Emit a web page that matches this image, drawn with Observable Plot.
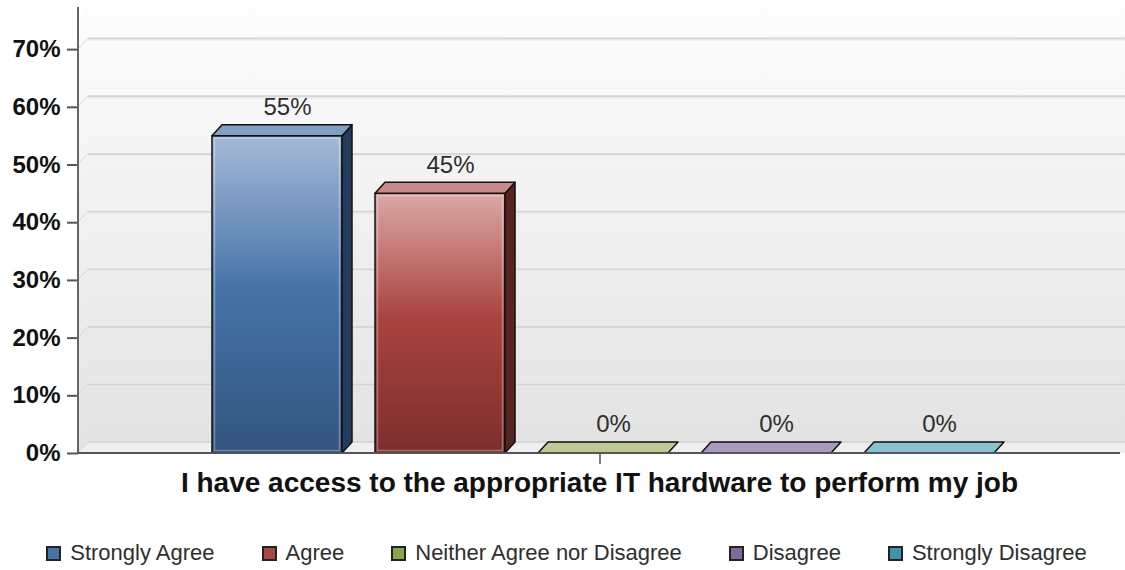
<!DOCTYPE html>
<html>
<head>
<meta charset="utf-8">
<script src="https://cdn.jsdelivr.net/npm/d3@7"></script>
<script src="https://cdn.jsdelivr.net/npm/@observablehq/plot@0.6"></script>
<style>
  html, body { margin: 0; padding: 0; background: #fff; overflow: hidden; }
  #wrap { position: relative; width: 1125px; height: 570px; font-family: "Liberation Sans", Arial, sans-serif; }
  #chart { position: absolute; left: 0; top: 0; }
  #legend { position: absolute; left: 4px; top: 542px; width: 1125px; display: flex; justify-content: center; gap: 47px;
            font-size: 22px; line-height: 22px; color: #2e2e2e; }
  .item { display: flex; align-items: center; white-space: nowrap; }
  .sw { width: 11px; height: 11px; border: 2px solid #222; margin-right: 9px; }
</style>
</head>
<body>
<div id="wrap">
  <div id="chart"></div>
  <div id="legend"></div>
</div>
<script>
// ---- data ----
const question = "I have access to the appropriate IT hardware to perform my job";
const series = ["Strongly Agree", "Agree", "Neither Agree nor Disagree", "Disagree", "Strongly Disagree"];
const values = [55, 45, 0, 0, 0];
const yTicks = [0, 10, 20, 30, 40, 50, 60, 70];

// ---- styles ----
const palette   = ["#4572A7", "#AA4643", "#89A54E", "#80699B", "#3D96AE"];
const gradTop   = ["#a4bad7", "#dba8a6", "#c9d6a8", "#b6a9c8", "#9fd0dd"];
const gradMid   = ["#4773a9", "#a9433f", "#89A54E", "#80699B", "#3D96AE"];
const gradBot   = ["#33547e", "#7c2e2c", "#5f7a34", "#5a4873", "#2a6e80"];
const topFace   = ["#809fc5", "#c98b89", "#bccb95", "#a89bbf", "#88c1d0"];
const sideFace  = ["#243b5c", "#562523", "#4c6128", "#463a58", "#20566a"];
const DX = 10, DY = 11;

const rows = series.map((s, i) => ({series: s, value: values[i], i}));

function scene(index, scales, vals, dims) {
  const {width, marginTop, marginLeft} = dims;
  const y0 = scales.y(0);
  const L = marginLeft;
  const g = d3.create("svg:g");
  const defs = g.append("defs");
  const wall = defs.append("linearGradient").attr("id", "wall").attr("x1", 0).attr("y1", 0).attr("x2", 0).attr("y2", 1);
  wall.append("stop").attr("offset", "0%").attr("stop-color", "#fdfdfd");
  wall.append("stop").attr("offset", "100%").attr("stop-color", "#e3e3e3");
  rows.forEach(d => {
    const lg = defs.append("linearGradient").attr("id", "front" + d.i).attr("x1", 0).attr("y1", 0).attr("x2", 0).attr("y2", 1);
    lg.append("stop").attr("offset", "0%").attr("stop-color", gradTop[d.i]);
    lg.append("stop").attr("offset", "48%").attr("stop-color", gradMid[d.i]);
    lg.append("stop").attr("offset", "100%").attr("stop-color", gradBot[d.i]);
  });
  // back wall
  g.append("rect").attr("x", L + DX).attr("y", marginTop).attr("width", width - L - DX)
    .attr("height", y0 - DY - marginTop).attr("fill", "url(#wall)");
  // left wall
  g.append("path").attr("d", `M${L},${marginTop + DY}L${L + DX},${marginTop}L${L + DX},${y0 - DY}L${L},${y0}Z`)
    .attr("fill", "url(#wall)");
  // floor
  g.append("path").attr("d", `M${L},${y0}L${L + DX},${y0 - DY}L${width},${y0 - DY}L${width},${y0}Z`)
    .attr("fill", "#efefef");
  g.append("line").attr("x1", L + DX).attr("x2", width).attr("y1", y0 - DY).attr("y2", y0 - DY)
    .attr("stroke", "#d0d0d0").attr("stroke-width", 1.5);
  // left wall tick diagonals
  yTicks.forEach(t => {
    const yy = scales.y(t);
    g.append("line").attr("x1", L).attr("y1", yy).attr("x2", L + DX).attr("y2", yy - DY)
      .attr("stroke", "#d8d8d8").attr("stroke-width", 1);
  });
  return g.node();
}

function faces(index, scales, vals, dims) {
  const sx = scales.x, sy = scales.y;
  const bw = sx.bandwidth();
  const y0 = sy(0);
  const g = d3.create("svg:g").attr("stroke", "#111").attr("stroke-width", 1.5).attr("stroke-linejoin", "round");
  rows.forEach(d => {
    const x0 = sx(d.series), x1 = x0 + bw, yv = sy(d.value);
    if (d.value > 0) {
      g.append("path").attr("d", `M${x1},${yv}L${x1 + DX},${yv - DY}L${x1 + DX},${y0 - DY}L${x1},${y0}Z`)
        .attr("fill", sideFace[d.i]);
    }
    g.append("path").attr("d", `M${x0},${yv}L${x0 + DX},${yv - DY}L${x1 + DX},${yv - DY}L${x1},${yv}Z`)
      .attr("fill", topFace[d.i]);
  });
  return g.node();
}

function axes(index, scales, vals, dims) {
  const {width, marginTop, marginLeft, marginRight} = dims;
  const y0 = scales.y(0);
  const cx = (marginLeft + width - marginRight) / 2 + 1;
  const g = d3.create("svg:g");
  g.append("line").attr("x1", marginLeft).attr("x2", marginLeft).attr("y1", marginTop).attr("y2", y0)
    .attr("stroke", "#666").attr("stroke-width", 2);
  g.append("line").attr("x1", marginLeft).attr("x2", width - marginRight).attr("y1", y0).attr("y2", y0)
    .attr("stroke", "#555").attr("stroke-width", 2);
  g.append("line").attr("x1", cx).attr("x2", cx).attr("y1", y0).attr("y2", y0 + 11)
    .attr("stroke", "#555").attr("stroke-width", 1.5);
  return g.node();
}

const chart = Plot.plot({
  width: 1125,
  height: 510,
  marginLeft: 78,
  marginRight: 5,
  marginTop: 7,
  marginBottom: 57,
  style: {fontFamily: "'Liberation Sans', Arial, sans-serif", color: "#111", background: "transparent", overflow: "visible"},
  x: {domain: series, paddingInner: 0.2, paddingOuter: 0.78, align: 0.515, axis: null, label: null},
  y: {domain: [0, 77.3], label: null},
  marks: [
    scene,
    Plot.ruleY(yTicks.filter(t => t > 0), {dx: DX, dy: -DY, stroke: "#d6d6d6", strokeWidth: 2}),
    Plot.ruleY(yTicks.filter(t => t > 0), {dx: DX, dy: -DY + 1.5, stroke: "#ececec", strokeWidth: 1}),
    Plot.axisY({ticks: yTicks, tickFormat: d => d + "%", tickSize: 11, tickPadding: 7,
                fontSize: 24, fontWeight: "bold", stroke: "#555", strokeWidth: 2, fill: "#111"}),
    Plot.barY(rows, {x: "series", y: "value", fill: d => `url(#front${d.i})`, stroke: "#111", strokeWidth: 1.5}),
    Plot.barY(rows.filter(d => d.value > 0), {x: "series", y: "value", inset: 2.5, fill: "none",
                stroke: "rgba(255,255,255,0.3)", strokeWidth: 1.5}),
    faces,
    Plot.text(rows, {x: "series", y: "value", text: d => d.value + "%", dx: DX, dy: -29, fontSize: 24, fill: "#2e2e2e"}),
    Plot.text([question], {text: d => d, frameAnchor: "bottom", lineAnchor: "middle", dy: 30,
                fontSize: 28, fontWeight: "bold", fill: "#111"}),
    axes
  ]
});
document.getElementById("chart").appendChild(chart);

const legend = document.getElementById("legend");
series.forEach((s, i) => {
  const item = document.createElement("div");
  item.className = "item";
  const sw = document.createElement("span");
  sw.className = "sw";
  sw.style.background = palette[i];
  const t = document.createElement("span");
  t.textContent = s;
  item.appendChild(sw);
  item.appendChild(t);
  legend.appendChild(item);
});
</script>
</body>
</html>
